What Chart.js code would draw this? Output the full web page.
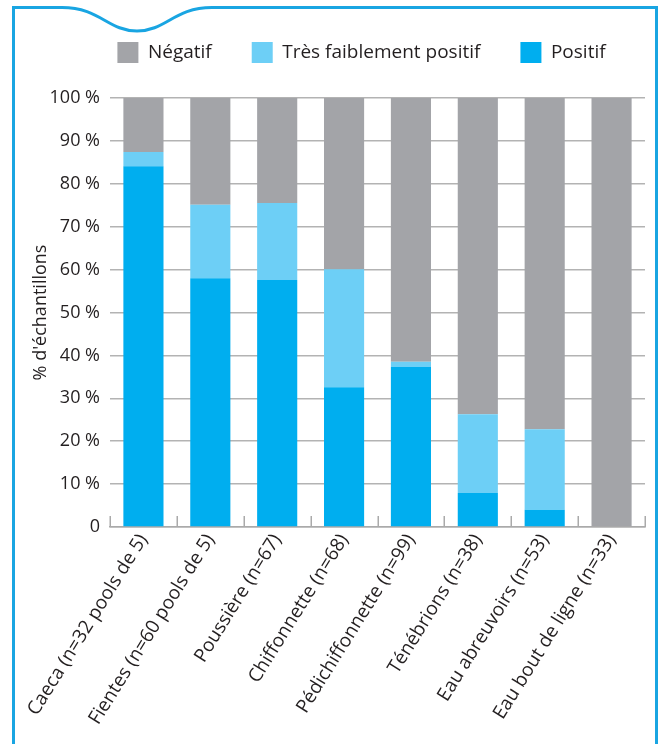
<!DOCTYPE html>
<html>
<head>
<meta charset="utf-8">
<script src="https://cdn.jsdelivr.net/npm/chart.js@4"></script>
<style>
  html, body { margin: 0; padding: 0; background: #ffffff; }
  #wrap { width: 664px; height: 744px; position: relative; }
</style>
</head>
<body>
<div id="wrap"><canvas id="c" width="664" height="744"></canvas></div>
<script>
const categories = [
  'Caeca (n=32 pools de 5)',
  'Fientes (n=60 pools de 5)',
  'Poussière (n=67)',
  'Chiffonnette (n=68)',
  'Pédichiffonnette (n=99)',
  'Ténébrions (n=38)',
  'Eau abreuvoirs (n=53)',
  'Eau bout de ligne (n=33)'
];
const positif = [84.1, 58.0, 57.6, 32.6, 37.3, 7.9, 4.0, 0];
const tresFaiblementPositif = [3.3, 17.1, 17.9, 27.5, 1.2, 18.4, 18.8, 0];
const negatif = [12.6, 24.9, 24.5, 39.9, 61.5, 73.7, 77.2, 100];
const seriesNames = ['Positif', 'Très faiblement positif', 'Négatif'];
const yTickValues = [0, 10, 20, 30, 40, 50, 60, 70, 80, 90, 100];
const yTickLabels = ['0', '10 %', '20 %', '30 %', '40 %', '50 %', '60 %', '70 %', '80 %', '90 %', '100 %'];
const yTitle = "% d'échantillons";

const FONT = "'Open Sans', 'Noto Sans', sans-serif";
const TEXT = '#231f20';

const framePlugin = {
  id: 'frame',
  beforeDraw(chart) {
    const ctx = chart.ctx;
    ctx.save();
    ctx.fillStyle = '#ffffff';
    ctx.fillRect(0, 0, chart.width, chart.height);
    ctx.strokeStyle = '#19a5e2';
    ctx.lineWidth = 3;
    ctx.beginPath();
    ctx.moveTo(13.5, chart.height + 5);
    ctx.lineTo(13.5, 7.5);
    ctx.lineTo(62, 7.5);
    ctx.bezierCurveTo(100, 7.5, 108, 31, 137, 31);
    ctx.bezierCurveTo(166, 31, 174, 7.5, 212, 7.5);
    ctx.lineTo(656.5, 7.5);
    ctx.lineTo(656.5, chart.height + 5);
    ctx.stroke();
    ctx.restore();
  }
};

const tickMarksPlugin = {
  id: 'tickMarks',
  afterDatasetsDraw(chart) {
    const xs = chart.scales.x;
    const ctx = chart.ctx;
    const n = categories.length;
    const y0 = xs.top;
    ctx.save();
    ctx.strokeStyle = '#aaaaaa';
    ctx.lineWidth = 1.5;
    ctx.beginPath();
    for (let i = 0; i <= n; i++) {
      let px;
      if (i === 0) px = xs.left;
      else if (i === n) px = xs.right;
      else px = (xs.getPixelForValue(i - 1) + xs.getPixelForValue(i)) / 2;
      px = Math.round(px) + 0.25;
      ctx.moveTo(px, y0);
      ctx.lineTo(px, y0 - 11);
    }
    ctx.stroke();
    ctx.restore();
  }
};

const legendShiftPlugin = {
  id: 'legendShift',
  afterLayout(chart) {
    const lg = chart.legend;
    if (lg) {
      // centre the legend items on x = 361.5, keeping room for one row
      lg.left = 58;
      lg.right = 665;
    }
  }
};

new Chart(document.getElementById('c'), {
  type: 'bar',
  data: {
    labels: categories,
    datasets: [
      { label: seriesNames[0], data: positif, backgroundColor: '#00aeef' },
      { label: seriesNames[1], data: tresFaiblementPositif, backgroundColor: '#6dcff6' },
      { label: seriesNames[2], data: negatif, backgroundColor: '#a3a4a8' }
    ]
  },
  options: {
    responsive: false,
    animation: false,
    devicePixelRatio: 1,
    layout: { padding: { top: 2, left: 0, right: 19, bottom: 0 } },
    datasets: { bar: { categoryPercentage: 1.0, barPercentage: 0.6, borderWidth: 0 } },
    plugins: {
      tooltip: { enabled: false },
      legend: {
        position: 'top',
        reverse: true,
        weight: 3000,
        labels: {
          boxWidth: 21,
          boxHeight: 21,
          padding: 40,
          color: TEXT,
          font: { family: FONT, size: 19 }
        }
      },
      title: {
        display: true,
        text: ' ',
        weight: 500,
        font: { size: 10, lineHeight: 1 },
        padding: { top: 0, bottom: 15 }
      }
    },
    scales: {
      x: {
        stacked: true,
        offset: true,
        grid: { display: true, drawOnChartArea: false, drawTicks: false, offset: true, color: 'rgba(0,0,0,0)' },
        border: { display: true, color: '#aaaaaa', width: 1.5 },
        ticks: {
          color: TEXT,
          font: { family: FONT, size: 19 },
          minRotation: 58,
          maxRotation: 58,
          padding: 3,
          autoSkip: false
        },
        afterFit(scale) { scale.height = 217; }
      },
      y: {
        stacked: true,
        min: 0,
        max: 100,
        afterBuildTicks(scale) { scale.ticks = yTickValues.map(v => ({ value: v })); },
        grid: { color: '#b3b3b3', lineWidth: 1.5, drawTicks: false },
        border: { display: false },
        ticks: {
          color: TEXT,
          font: { family: FONT, size: 18 },
          padding: 10,
          callback(value) { const i = yTickValues.indexOf(value); return i >= 0 ? yTickLabels[i] : ''; }
        },
        title: {
          display: true,
          text: yTitle,
          color: TEXT,
          font: { family: FONT, size: 18 },
          padding: { top: 30, bottom: 0 }
        },
        afterFit(scale) { scale.width = 110; }
      }
    }
  },
  plugins: [framePlugin, tickMarksPlugin, legendShiftPlugin]
});
</script>
</body>
</html>
